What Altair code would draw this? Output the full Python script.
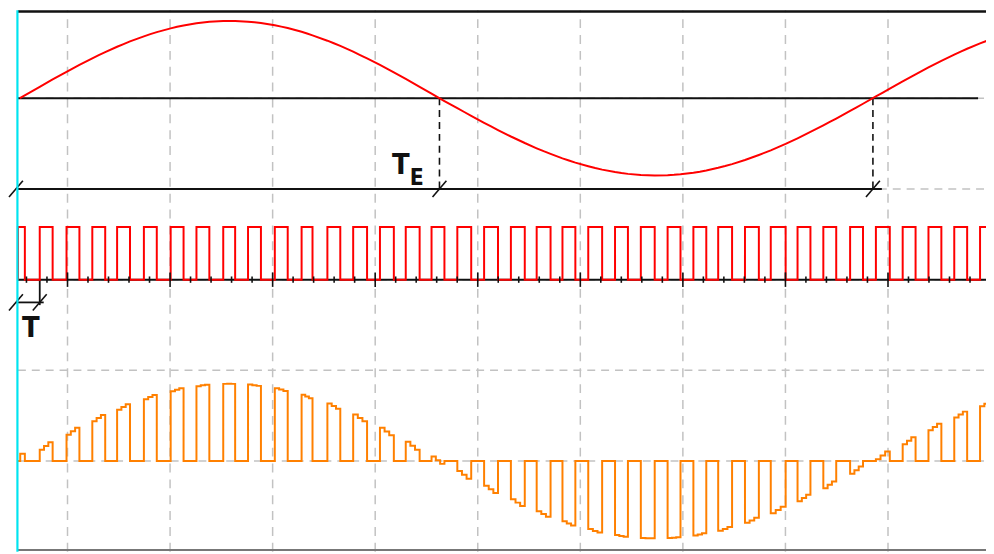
import altair as alt
import pandas as pd

# ---------------- data ----------------
# time axis t: horizontal sample units, sine starts at t = 0
pulse_rise = [-2, 20, 47, 73, 98, 125, 152, 178, 205, 230, 257, 284, 310, 336, 363, 389,
              415, 441, 468, 495, 521, 547, 573, 600, 626, 653, 679, 704, 731, 757, 784,
              810, 837, 863, 890, 916, 942, 968]
pulse_fall = [5, 33, 60, 86, 111, 138, 165, 191, 217, 243, 270, 295, 323, 350, 377, 403,
              428, 455, 482, 509, 535, 560, 587, 613, 640, 666, 692, 718, 745, 772, 797,
              823, 850, 877, 903, 929, 955, 981]
# sampled reference sine (divisions) at start / middle / end of every pulse
sine_at_rise = [0.00, 0.126, 0.291, 0.440, 0.567, 0.682, 0.770, 0.826, 0.851, 0.844, 0.804,
                0.732, 0.634, 0.513, 0.368, 0.213, 0.051, -0.110, -0.271, -0.422, -0.552,
                -0.663, -0.750, -0.814, -0.847, -0.849, -0.821, -0.767, -0.681, -0.575,
                -0.442, -0.299, -0.140, 0.019, 0.185, 0.339, 0.480, 0.605]
sine_at_mid = [0.08, 0.167, 0.330, 0.474, 0.597, 0.706, 0.787, 0.835, 0.852, 0.837, 0.789,
               0.713, 0.606, 0.476, 0.327, 0.170, 0.009, -0.152, -0.311, -0.458, -0.584,
               -0.687, -0.770, -0.825, -0.850, -0.845, -0.810, -0.748, -0.654, -0.540,
               -0.407, -0.262, -0.101, 0.062, 0.225, 0.376, 0.513, 0.632]
sine_at_fall = [0.08, 0.207, 0.367, 0.508, 0.626, 0.728, 0.802, 0.842, 0.851, 0.829, 0.773,
                0.693, 0.576, 0.439, 0.285, 0.126, -0.031, -0.194, -0.351, -0.494, -0.614,
                -0.710, -0.787, -0.834, -0.852, -0.839, -0.796, -0.727, -0.626, -0.504,
                -0.372, -0.224, -0.061, 0.106, 0.263, 0.412, 0.545, 0.659]
zero_cross_t = [423, 860]
grid_t = [48, 151.4, 254.8, 358.2, 461.6, 565.0, 668.4, 771.8, 875.2]
grid_v = [1, 2, 3, 4, 5]

n = len(pulse_rise)
assert all(len(a) == n for a in (pulse_fall, sine_at_rise, sine_at_mid, sine_at_fall))

# ---------------- layout constants ----------------
T0, T1 = -12, 974
V0, V1 = 0.0, 5.97
SINE_C, PWM_LOW, PWM_HIGH, OUT_C = 5.0, 3.0, 3.58, 1.0
DIM_V, T_V = 4.0, 2.749
RED, ORANGE, CYAN, BLACK, GRID = "#ff0000", "#ff8000", "#00e4f0", "#111111", "#c2c2c2"

xs = alt.Scale(domain=[T0, T1], nice=False, zero=False)
ys = alt.Scale(domain=[V0, V1], nice=False, zero=False)


def segs(rows, color, width, dash=None):
    df = pd.DataFrame(rows, columns=["x1", "y1", "x2", "y2"])
    kw = dict(color=color, strokeWidth=width)
    if dash:
        kw["strokeDash"] = dash
    return alt.Chart(df).mark_rule(**kw).encode(
        x=alt.X("x1:Q", scale=xs, axis=None), x2="x2:Q",
        y=alt.Y("y1:Q", scale=ys, axis=None), y2="y2:Q")


def path(rows, color, width):
    df = pd.DataFrame(rows, columns=["t", "v"])
    df["i"] = range(len(df))
    return alt.Chart(df).mark_line(color=color, strokeWidth=width, clip=True).encode(
        x=alt.X("t:Q", scale=xs, axis=None),
        y=alt.Y("v:Q", scale=ys, axis=None),
        order="i:Q")


# grid
hgrid = segs([(-2, v, T1, v) for v in grid_v], GRID, 1.5, [8, 6])
vgrid = segs([(t, V0, t, V1) for t in grid_t], GRID, 1.5, [9, 7])
frame = segs([(-2.5, V0, -2.5, V1)], CYAN, 2.2)
top_line = segs([(-2, 5.955, T1, 5.955)], BLACK, 2.5)
bot_line = segs([(-2, 0.02, T1, 0.02)], "#777777", 2)

# sine axis and dimension line
axes_lines = segs([(-2, SINE_C, 966, SINE_C), (-2, DIM_V, 869, DIM_V),
                   (-2, PWM_LOW, T1, PWM_LOW)], BLACK, 2)
drop_lines = segs([(t, SINE_C, t, DIM_V) for t in zero_cross_t], BLACK, 1.6, [7, 5])
slash_pts = [(-4, DIM_V), (423, DIM_V), (860, DIM_V), (-4, T_V), (20, T_V)]
slashes = segs([(t - 7, v - 0.09, t + 7, v + 0.09) for t, v in slash_pts], BLACK, 1.6)
t_dim = segs([(-4, T_V, 24, T_V), (20, PWM_LOW, 20, T_V - 0.03)], BLACK, 1.8)

# red sine
sine_rows = [(0, SINE_C)]
for k in range(1, n):
    r, f = pulse_rise[k], pulse_fall[k]
    sine_rows += [(r, SINE_C + sine_at_rise[k]), ((r + f) / 2, SINE_C + sine_at_mid[k]),
                  (f, SINE_C + sine_at_fall[k])]
sine_line = path(sine_rows, RED, 2)

# red PWM
pwm_rows = []
for r, f in zip(pulse_rise, pulse_fall):
    pwm_rows += [(r, PWM_LOW), (r, PWM_HIGH), (f, PWM_HIGH), (f, PWM_LOW)]
pwm_line = path(pwm_rows, RED, 2)

# ticks on PWM baseline
minor = [6.6 + 20.68 * j for j in range(48)]
minor = [t for t in minor if min(abs(t - g) for g in grid_t) > 3 and t < T1]
ticks = segs([(t, PWM_LOW - 0.035, t, PWM_LOW + 0.035) for t in minor] +
             [(t, PWM_LOW - 0.08, t, PWM_LOW + 0.08) for t in grid_t], BLACK, 1.6)

# orange modulated output
out_rows = []
for r, f, a, m, b in zip(pulse_rise, pulse_fall, sine_at_rise, sine_at_mid, sine_at_fall):
    w = f - r
    p1, p2 = r + w / 3, r + 2 * w / 3
    out_rows += [(r, OUT_C), (r, OUT_C + a), (p1, OUT_C + a), (p1, OUT_C + m),
                 (p2, OUT_C + m), (p2, OUT_C + b), (f, OUT_C + b), (f, OUT_C)]
out_line = path(out_rows, ORANGE, 2)

# labels
FONT = "Liberation Sans Narrow, DejaVu Sans Condensed, Liberation Sans, sans-serif"
lab_big = alt.Chart(pd.DataFrame({"t": [11, 384], "v": [2.366, 4.169], "s": ["T", "T"]})).mark_text(
    font=FONT, fontSize=29, fontWeight="bold", color=BLACK, align="center", baseline="alphabetic"
).encode(x=alt.X("t:Q", scale=xs, axis=None), y=alt.Y("v:Q", scale=ys, axis=None), text="s:N")
lab_sub = alt.Chart(pd.DataFrame({"t": [400], "v": [4.038], "s": ["E"]})).mark_text(
    font=FONT, fontSize=23, fontWeight="bold", color=BLACK, align="center", baseline="alphabetic"
).encode(x=alt.X("t:Q", scale=xs, axis=None), y=alt.Y("v:Q", scale=ys, axis=None), text="s:N")

chart = alt.layer(
    hgrid, vgrid, bot_line, top_line, axes_lines, drop_lines, slashes, t_dim,
    sine_line, pwm_line, ticks, out_line, frame, lab_big, lab_sub
).properties(
    width=986, height=546, padding=0,
    autosize=alt.AutoSizeParams(type="none"), background="white"
).configure_view(stroke=None)

chart.save("out.html", embed_options={"renderer": "svg", "actions": False})
